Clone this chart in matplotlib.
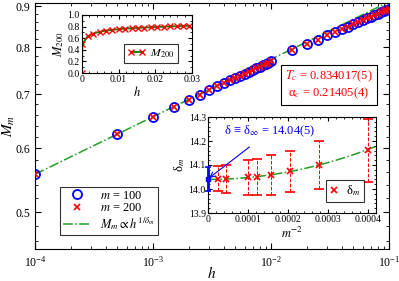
import numpy as np
import matplotlib
matplotlib.use('Agg')
import matplotlib.pyplot as plt
from matplotlib.lines import Line2D
from matplotlib.ticker import FixedLocator, NullFormatter, FormatStrFormatter, MultipleLocator

plt.rcParams['font.family'] = ['Liberation Serif', 'DejaVu Serif']
plt.rcParams['mathtext.fontset'] = 'stix'

# main panel: magnetisation vs field
h_main = [1e-4, 5e-4, 1e-3, 1.5e-3, 2e-3, 2.5e-3, 3e-3, 3.5e-3, 4e-3, 4.5e-3,
          5e-3, 5.5e-3, 6e-3, 6.5e-3, 7e-3, 7.5e-3, 8e-3, 8.5e-3, 9e-3, 9.5e-3,
          1e-2, 0.015, 0.02, 0.025, 0.03, 0.035, 0.04, 0.045, 0.05, 0.055,
          0.06, 0.065, 0.07, 0.075, 0.08, 0.085, 0.09, 0.095, 0.1]
M_100 = [0.557, 0.625, 0.655, 0.674, 0.688, 0.699, 0.708, 0.716, 0.722, 0.728,
         0.733, 0.738, 0.742, 0.746, 0.750, 0.754, 0.757, 0.760, 0.763, 0.766,
         0.769, 0.793, 0.807, 0.818, 0.828, 0.836, 0.843, 0.849, 0.855, 0.860,
         0.864, 0.869, 0.873, 0.877, 0.880, 0.884, 0.887, 0.890, 0.893]
M_200 = [0.557, 0.625, 0.655, 0.674, 0.688, 0.699, 0.708, 0.716, 0.722, 0.728,
         0.733, 0.738, 0.742, 0.746, 0.750, 0.754, 0.757, 0.760, 0.763, 0.766,
         0.769, 0.793, 0.807, 0.818, 0.828, 0.836, 0.843, 0.849, 0.855, 0.860,
         0.864, 0.869, 0.873, 0.877, 0.880, 0.884, 0.887, 0.890, 0.893]
# power-law fit M ~ h^(1/delta)
fit_M0 = 0.557
fit_h0 = 1e-4
delta_inf = 14.04

# inset 1: M_200 on linear h
h_in = [0, 0.0001, 0.0015, 0.003, 0.0048, 0.0065, 0.0083, 0.01, 0.0118, 0.0135,
        0.0153, 0.017, 0.0188, 0.0205, 0.0223, 0.024, 0.0258, 0.0275, 0.0293]
M200_in = [0.0, 0.50, 0.63, 0.68, 0.71, 0.73, 0.745, 0.755, 0.765, 0.772,
           0.778, 0.784, 0.789, 0.794, 0.799, 0.803, 0.807, 0.811, 0.815]

# inset 2: delta_m vs m^-2
m_vals = [200, 150, 100, 90, 80, 70, 60, 50]
delta_m = [14.042, 14.042, 14.048, 14.050, 14.059, 14.073, 14.099, 14.161]
delta_err = [0.052, 0.057, 0.072, 0.077, 0.083, 0.087, 0.101, 0.132]
delta_inf_err = 0.05
quad_coef = 7.8e5

green = '#22a022'


def style_axis(ax, length=3.5):
    ax.tick_params(which='both', direction='in', top=True, right=True)
    ax.tick_params(which='major', length=length)
    ax.tick_params(which='minor', length=length * 0.55)


def main():
    fig = plt.figure(figsize=(3.99, 2.81), dpi=100)

    # main axes
    ax = fig.add_axes([35/399, 32/281, 354/399, 246/281])
    hh = np.logspace(-4, -1, 200)
    ax.plot(hh, fit_M0 * (hh / fit_h0)**(1 / delta_inf), '-.', color=green, lw=1.1, zorder=1)
    ax.plot(h_main, M_100, 'o', mfc='none', mec='blue', ms=6.5, mew=1.3, zorder=2)
    ax.plot(h_main, M_200, 'x', color='red', ms=4.5, mew=1.2, zorder=3)
    ax.set_xscale('log')
    ax.set_yscale('log')
    ax.set_xlim(1e-4, 1e-1)
    ax.set_ylim(0.45, 0.908)
    ax.yaxis.set_major_locator(FixedLocator([0.5, 0.6, 0.7, 0.8, 0.9]))
    ax.yaxis.set_major_formatter(FormatStrFormatter('%.1f'))
    ax.yaxis.set_minor_locator(FixedLocator(np.arange(0.46, 0.91, 0.02)))
    ax.yaxis.set_minor_formatter(NullFormatter())
    style_axis(ax, 4.5)
    ax.tick_params(labelsize=8.5)
    ax.tick_params(axis='x', pad=4)
    ax.set_xlabel('$h$', fontsize=11)
    ax.set_ylabel('$M_m$', fontsize=11)
    ax.xaxis.set_label_coords(0.5, -0.066)
    ax.yaxis.set_label_coords(-0.052, 0.5)

    handles = [Line2D([], [], ls='none', marker='o', mfc='none', mec='blue', ms=6.5, mew=1.3),
               Line2D([], [], ls='none', marker='x', color='red', ms=4.5, mew=1.2),
               Line2D([], [], ls='-.', color=green, lw=1.1)]
    labels = ['$m$ = 100', '$m$ = 200', r'$M_m \propto h^{1/\delta_m}$']
    leg = ax.legend(handles, labels, loc='lower left', bbox_to_anchor=(0.07, 0.057),
                    borderaxespad=0, fontsize=9, frameon=True, fancybox=False,
                    edgecolor='black', handlelength=2.2, borderpad=0.25,
                    labelspacing=0.05, handletextpad=0.8)
    leg.get_frame().set_linewidth(0.8)

    ax.text(0.83, 0.667, '$T_c$ = 0.834017(5)\n' + r'α$_c$ = 0.21405(4)',
            transform=ax.transAxes, ha='center', va='center', color='red', fontsize=9,
            linespacing=1.1,
            bbox=dict(boxstyle='square,pad=0.35', fc='white', ec='black', lw=0.8))

    # inset 1
    ax1 = fig.add_axes([82/399, (281-73)/281, 110/399, 58/281])
    ax1.plot(h_in, M200_in, '-', color='green', lw=1.3, marker='x', mec='red', ms=4, mew=1)
    ax1.set_xlim(0, 0.03)
    ax1.set_ylim(0, 1.0)
    ax1.xaxis.set_major_locator(MultipleLocator(0.01))
    ax1.xaxis.set_minor_locator(MultipleLocator(0.002))
    ax1.yaxis.set_major_locator(MultipleLocator(0.2))
    ax1.yaxis.set_minor_locator(MultipleLocator(0.1))
    ax1.xaxis.set_major_formatter(FormatStrFormatter('%g'))
    ax1.yaxis.set_major_formatter(FormatStrFormatter('%.1f'))
    style_axis(ax1, 3)
    ax1.tick_params(labelsize=7, pad=1.5)
    ax1.set_xlabel('$h$', fontsize=9, labelpad=1)
    ax1.set_ylabel('$M_{200}$', fontsize=9, labelpad=1)
    leg1 = ax1.legend([Line2D([], [], color='green', lw=1.3, marker='x', mec='red', ms=4, mew=1)],
                      ['$M_{200}$'], loc='lower left', bbox_to_anchor=(0.38, 0.17),
                      borderaxespad=0, fontsize=8.5, fancybox=False, edgecolor='black',
                      numpoints=2, handlelength=1.5, borderpad=0.3, handletextpad=0.4)
    leg1.get_frame().set_linewidth(0.8)

    # inset 2
    ax2 = fig.add_axes([208/399, (281-213)/281, 168/399, 96/281])
    x_m = [1.0 / m**2 for m in m_vals]
    xx = np.linspace(0, 0.00042, 100)
    ax2.plot(xx, delta_inf + quad_coef * xx**2, '-.', color=green, lw=1.1, zorder=1)
    eb = ax2.errorbar(x_m, delta_m, yerr=delta_err, fmt='x', color='red', ms=4.5, mew=1.2,
                      ecolor='red', elinewidth=0.7, capsize=3.5, capthick=0.7, zorder=2)
    eb[2][0].set_linestyle('--')
    ax2.errorbar([0], [delta_inf], yerr=[delta_inf_err], fmt='s', color='blue', ms=3,
                 elinewidth=2, capsize=2.5, capthick=1.2, clip_on=False, zorder=3)
    ax2.set_xlim(0, 0.00042)
    ax2.set_ylim(13.9, 14.3)
    ax2.xaxis.set_major_locator(MultipleLocator(0.0001))
    ax2.xaxis.set_minor_locator(MultipleLocator(0.00002))
    ax2.yaxis.set_major_locator(MultipleLocator(0.1))
    ax2.yaxis.set_minor_locator(MultipleLocator(0.02))
    ax2.xaxis.set_major_formatter(FormatStrFormatter('%g'))
    ax2.yaxis.set_major_formatter(FormatStrFormatter('%.1f'))
    style_axis(ax2, 3)
    ax2.tick_params(labelsize=7, pad=1.5)
    ax2.set_xlabel('$m^{-2}$', fontsize=9, labelpad=1)
    ax2.set_ylabel('δ$_m$', fontsize=9, labelpad=1)
    ax2.annotate('δ ≡ δ$_\\infty$ = 14.04(5)', xy=(0.000003, 14.046), xytext=(0.00004, 14.24),
                 color='blue', fontsize=9, va='center',
                 arrowprops=dict(arrowstyle='->', color='blue', lw=0.8, shrinkA=6, shrinkB=0))
    leg2 = ax2.legend([Line2D([], [], ls='none', marker='x', color='red', ms=4.5, mew=1.2)],
                      ['δ$_m$'], loc='lower left', bbox_to_anchor=(0.70, 0.115),
                      borderaxespad=0, fontsize=9, fancybox=False, edgecolor='black',
                      handlelength=0.8, borderpad=0.3, handletextpad=0.5)
    leg2.get_frame().set_linewidth(0.8)

    fig.savefig('out.png', dpi=100)


if __name__ == '__main__':
    main()
